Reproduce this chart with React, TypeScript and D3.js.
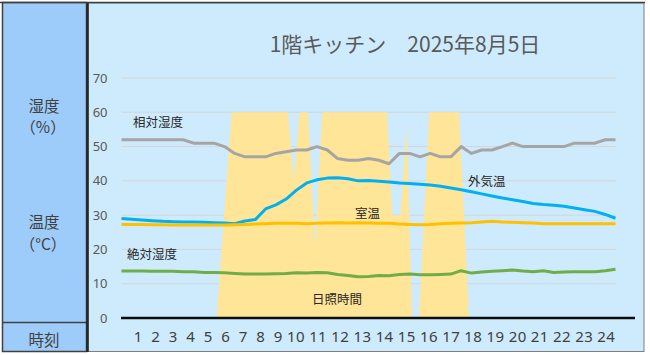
import React from 'react';
import * as d3 from 'd3';

// time stamps (hours) for the 30-minute series
const times = d3.range(0, 24.001, 0.5);

const relHumidity = [52, 52, 52, 52, 52, 52, 52, 51, 51, 51, 50, 48, 47, 47, 47, 48, 48.5, 49, 49, 50, 49, 46.5, 46, 46, 46.5, 46, 45, 48, 48, 47, 48, 47, 47, 50, 48, 49, 49, 50, 51, 50, 50, 50, 50, 50, 51, 51, 51, 52, 52];
const outdoorTemp = [29.0, 28.8, 28.6, 28.4, 28.2, 28.1, 28.0, 28.0, 27.9, 27.8, 27.7, 27.5, 28.3, 28.7, 31.8, 33.0, 34.7, 37.3, 39.4, 40.3, 40.8, 40.9, 40.6, 40.0, 40.1, 39.9, 39.7, 39.4, 39.2, 39.0, 38.8, 38.4, 37.9, 37.4, 36.8, 36.2, 35.6, 35.0, 34.5, 34.0, 33.4, 33.1, 32.9, 32.6, 32.1, 31.6, 31.1, 30.2, 29.1];
const roomTemp = [27.3, 27.3, 27.3, 27.2, 27.2, 27.1, 27.1, 27.1, 27.1, 27.1, 27.1, 27.2, 27.3, 27.4, 27.5, 27.6, 27.6, 27.6, 27.5, 27.6, 27.7, 27.8, 27.7, 27.8, 27.7, 27.6, 27.6, 27.4, 27.3, 27.2, 27.3, 27.5, 27.6, 27.7, 27.8, 28.0, 28.2, 28.0, 27.9, 27.8, 27.7, 27.5, 27.5, 27.5, 27.5, 27.5, 27.5, 27.5, 27.5];
const absHumidity = [13.7, 13.7, 13.7, 13.6, 13.6, 13.6, 13.5, 13.5, 13.3, 13.3, 13.2, 13.0, 12.8, 12.8, 12.8, 12.9, 13.0, 13.2, 13.1, 13.3, 13.2, 12.7, 12.4, 12.0, 12.1, 12.4, 12.3, 12.7, 12.8, 12.6, 12.6, 12.7, 12.8, 13.8, 13.1, 13.4, 13.6, 13.8, 14.0, 13.7, 13.5, 13.8, 13.3, 13.4, 13.5, 13.5, 13.5, 13.8, 14.2];

// sunshine (日照時間) breakpoints
const sunTimes = [0, 4.62, 5.35, 8.08, 8.37, 8.65, 9.06, 9.4, 9.75, 12.9, 13.15, 13.55, 13.85, 14.12, 14.45, 14.95, 16.4, 16.88, 24];
const sunValues = [0, 0, 60, 60, 40, 60, 60, 21, 60, 60, 30, 30, 56, 0, 0, 60, 60, 0, 0];

const yTicks = [0, 10, 20, 30, 40, 50, 60, 70];
const xTickLabels = ['1', '2', '3', '4', '5', '6', '7', '8', '9', '10', '11', '12', '13', '14', '15', '16', '17', '18', '19', '20', '21', '22', '23', '24'];

const title = '1階キッチン\u30002025年8月5日';

const seriesLabels = [
  { text: '相対湿度', t: 0.56, v: 55.6 },
  { text: '外気温', t: 16.84, v: 38.4 },
  { text: '室温', t: 11.35, v: 29.3 },
  { text: '絶対湿度', t: 0.27, v: 17.1 },
  { text: '日照時間', t: 9.26, v: 4.1 },
];

const W = 650;
const H = 355;
const CJK = '"Noto Sans CJK JP", "Noto Sans", sans-serif';
const LAT = '"Noto Sans", "DejaVu Sans", sans-serif';

export default function App() {
  const x = d3.scaleLinear().domain([0, 24]).range([121.5, 615.5]);
  const y = d3.scaleLinear().domain([0, 70]).range([318, 78]);

  const line = d3
    .line<number>()
    .x((_, i) => x(times[i]))
    .y((d) => y(d));

  const sunArea = d3
    .area<number>()
    .x((_, i) => x(sunTimes[i]))
    .y0(y(0))
    .y1((d) => y(d));

  const xLabelText = xTickLabels.reduce(
    (acc, l, i) =>
      i === 0
        ? l
        : acc + (xTickLabels[i - 1].length === 1 && l.length === 1 ? '\u00A0\u00A0' : '\u00A0') + l,
    ''
  );

  const series = [
    { data: relHumidity, color: '#A5A5A5' },
    { data: outdoorTemp, color: '#00B0F0' },
    { data: roomTemp, color: '#FFC000' },
    { data: absHumidity, color: '#70AD47' },
  ];

  return (
    <svg
      width={W}
      height={H}
      viewBox={`0 0 ${W} ${H}`}
      style={{ position: 'absolute', left: 0, top: 0, display: 'block' }}
    >
      <rect x={0} y={0} width={W} height={H} fill="#ffffff" />
      {/* left header panel */}
      <rect x={2.5} y={2.5} width={84} height={349} fill="#9DCCFA" stroke="#404040" strokeWidth={1.5} />
      <line x1={2.5} x2={87} y1={322.5} y2={322.5} stroke="#404040" strokeWidth={1.5} />
      {/* chart area */}
      <rect x={88} y={3} width={556} height={348.5} fill="#CDEBFC" stroke="#7F7F7F" strokeWidth={1} />
      <line x1={87.5} x2={87.5} y1={2} y2={352} stroke="#262626" strokeWidth={2.5} />
      <line x1={0} x2={645} y1={2.5} y2={2.5} stroke="#404040" strokeWidth={1.5} />

      {/* left panel labels */}
      <g fontFamily={CJK} fontSize={15.5} fill="#404040" textAnchor="middle">
        <text x={44} y={111.5}>湿度</text>
        <text x={43} y={133}>（%）</text>
        <text x={44} y={228}>温度</text>
        <text x={43} y={249.5}>（°C）</text>
        <text x={44} y={346}>時刻</text>
      </g>

      {/* title */}
      <text x={405} y={51.5} textAnchor="middle" fontFamily={CJK} fontSize={21} fill="#595959">
        {title}
      </text>

      {/* gridlines */}
      {yTicks
        .filter((t) => t > 0)
        .map((t) => (
          <line key={t} x1={x(0)} x2={x(24)} y1={y(t)} y2={y(t)} stroke="#D6D6D6" strokeWidth={1} />
        ))}

      {/* y tick labels */}
      <g fontFamily={LAT} fontSize={13} fill="#595959" textAnchor="end">
        {yTicks.map((t) => (
          <text key={t} x={107.5} y={y(t)} dy="0.35em">
            {t}
          </text>
        ))}
      </g>

      {/* sunshine area */}
      <path d={sunArea(sunValues) || ''} fill="#FFE597" stroke="none" />

      {/* series lines */}
      {series.map((s, i) => (
        <path
          key={i}
          d={line(s.data) || ''}
          fill="none"
          stroke={s.color}
          strokeWidth={3}
          strokeLinejoin="round"
          strokeLinecap="butt"
        />
      ))}

      {/* x axis line */}
      <line x1={x(0) - 0.5} x2={635} y1={y(0)} y2={y(0)} stroke="#0D0D0D" strokeWidth={2.5} />

      {/* x labels */}
      <text
        x={x(0.6)}
        y={341.5}
        fontFamily={LAT}
        fontSize={15}
        letterSpacing={0.37}
        fill="#404040"
        style={{ whiteSpace: 'pre' }}
      >
        {xLabelText}
      </text>

      {/* series labels */}
      <g fontFamily={CJK} fontSize={12.5} fill="#262626">
        {seriesLabels.map((l) => (
          <text key={l.text} x={x(l.t)} y={y(l.v)}>
            {l.text}
          </text>
        ))}
      </g>
    </svg>
  );
}
